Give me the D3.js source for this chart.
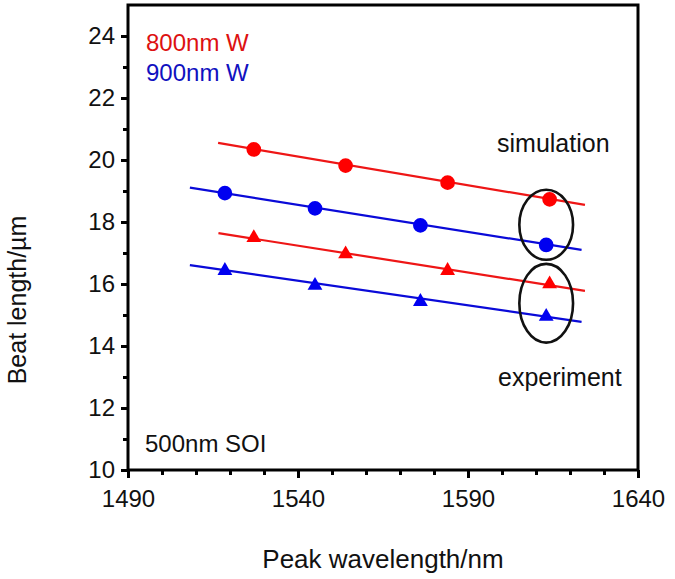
<!DOCTYPE html>
<html>
<head>
<meta charset="utf-8">
<script src="https://cdn.jsdelivr.net/npm/d3@7/dist/d3.min.js"></script>
<style>
  html, body { margin: 0; padding: 0; background: #fff; }
  svg { display: block; }
  text { font-family: Arial, "Liberation Sans", Helvetica, sans-serif; }
</style>
</head>
<body>
<div id="chart"></div>
<script>
// ---- data ----
const wlRed = [1527, 1554, 1584, 1614];
const wlBlue = [1518.5, 1545, 1576, 1613];
const simRed = [20.34, 19.82, 19.27, 18.73];
const simBlue = [18.93, 18.44, 17.89, 17.26];
const expRed = [17.49, 16.97, 16.43, 16.0];
const expBlue = [16.43, 15.95, 15.43, 14.95];
// fitted trend lines: [wavelength start, value start, wavelength end, value end]
const fitRedSim = [1516.5, 20.55, 1624.4, 18.55];
const fitBlueSim = [1508.2, 19.11, 1623.4, 17.10];
const fitRedExp = [1516.6, 17.64, 1624.4, 15.78];
const fitBlueExp = [1508.2, 16.61, 1623.4, 14.78];
// ellipses: [center wavelength, center value, half width nm, half height µm]
const ellipseSim = [1613, 17.91, 7.9, 1.13];
const ellipseExp = [1613, 15.38, 7.9, 1.27];
const xTicksMajor = [1490, 1540, 1590, 1640];
const yTicksMajor = [10, 12, 14, 16, 18, 20, 22, 24];
const xDomain = [1490, 1640];
const yDomain = [10, 25];
const legendLabels = ["800nm W", "900nm W"];

const W = 675, H = 579;
const M = { left: 128, top: 5, right: 37, bottom: 109 };
const iw = W - M.left - M.right, ih = H - M.top - M.bottom;
const RED = "#ff0000", RED_LINE = "#ee1616", BLUE = "#0000f0", BLUE_LINE = "#0a0ad8";

const svg = d3.select("#chart").append("svg").attr("width", W).attr("height", H);
const g = svg.append("g").attr("transform", `translate(${M.left},${M.top})`);

const x = d3.scaleLinear().domain(xDomain).range([0, iw]);
const y = d3.scaleLinear().domain(yDomain).range([ih, 0]);

// minor ticks
const xMinor = d3.range(xDomain[0], xDomain[1] + 1, 10).filter(v => !xTicksMajor.includes(v));
const yMinor = d3.range(yDomain[0], yDomain[1], 1).filter(v => !yTicksMajor.includes(v));

const xAxis = g.append("g").attr("transform", `translate(0,${ih})`)
  .call(d3.axisBottom(x).tickValues(xTicksMajor).tickFormat(d3.format("d")).tickSize(8).tickPadding(12));
g.append("g").attr("transform", `translate(0,${ih})`)
  .call(d3.axisBottom(x).tickValues(xMinor).tickFormat("").tickSize(5))
  .call(a => a.select(".domain").remove());
const yAxis = g.append("g")
  .call(d3.axisLeft(y).tickValues(yTicksMajor).tickFormat(d3.format("d")).tickSize(7).tickPadding(6));
g.append("g")
  .call(d3.axisLeft(y).tickValues(yMinor).tickFormat("").tickSize(5))
  .call(a => a.select(".domain").remove());

g.selectAll(".tick line").attr("stroke", "#000").attr("stroke-width", 3);
g.selectAll(".domain").remove();
g.selectAll(".tick text").attr("font-size", 24).attr("fill", "#111")
  .attr("font-family", "Arial, 'Liberation Sans', sans-serif");

// frame
g.append("rect").attr("x", 0).attr("y", 0).attr("width", iw).attr("height", ih)
  .attr("fill", "none").attr("stroke", "#000").attr("stroke-width", 3);

// trend lines
const fits = [[fitRedSim, RED_LINE], [fitBlueSim, BLUE_LINE], [fitRedExp, RED_LINE], [fitBlueExp, BLUE_LINE]];
g.selectAll(".fit").data(fits).enter().append("line")
  .attr("x1", d => x(d[0][0])).attr("y1", d => y(d[0][1]))
  .attr("x2", d => x(d[0][2])).attr("y2", d => y(d[0][3]))
  .attr("stroke", d => d[1]).attr("stroke-width", 2.2);

// markers
const series = [
  { wl: wlRed, v: simRed, c: RED, sym: d3.symbolCircle, size: 170 },
  { wl: wlBlue, v: simBlue, c: BLUE, sym: d3.symbolCircle, size: 170 },
  { wl: wlRed, v: expRed, c: RED, sym: d3.symbolTriangle, size: 95 },
  { wl: wlBlue, v: expBlue, c: BLUE, sym: d3.symbolTriangle, size: 95 }
];
series.forEach(s => {
  g.selectAll(null).data(s.v).enter().append("path")
    .attr("d", d3.symbol().type(s.sym).size(s.size))
    .attr("transform", (d, i) => `translate(${x(s.wl[i])},${y(d)})`)
    .attr("fill", s.c);
});

// ellipses
[ellipseSim, ellipseExp].forEach(e => {
  g.append("ellipse")
    .attr("cx", x(e[0])).attr("cy", y(e[1]))
    .attr("rx", x(e[0] + e[2]) - x(e[0]))
    .attr("ry", y(e[1] - e[3]) - y(e[1]))
    .attr("fill", "none").attr("stroke", "#111").attr("stroke-width", 2.6);
});

// annotations
g.append("text").attr("x", 369).attr("y", 147).attr("font-size", 25).attr("fill", "#111").text("simulation");
g.append("text").attr("x", 370).attr("y", 381).attr("font-size", 25).attr("fill", "#111").text("experiment");
g.append("text").attr("x", 17).attr("y", 447).attr("font-size", 24).attr("fill", "#111").text("500nm SOI");
g.append("text").attr("x", 18).attr("y", 46).attr("font-size", 24).attr("fill", "#dd1111").text(legendLabels[0]);
g.append("text").attr("x", 18).attr("y", 76).attr("font-size", 24).attr("fill", "#1111c0").text(legendLabels[1]);

// axis titles
svg.append("text").attr("x", 383).attr("y", 568).attr("text-anchor", "middle")
  .attr("font-size", 26).attr("fill", "#111").text("Peak wavelength/nm");
svg.append("text").attr("transform", "translate(26,300) rotate(-90)").attr("text-anchor", "middle")
  .attr("font-size", 25).attr("fill", "#111").text("Beat length/µm");
</script>
</body>
</html>
